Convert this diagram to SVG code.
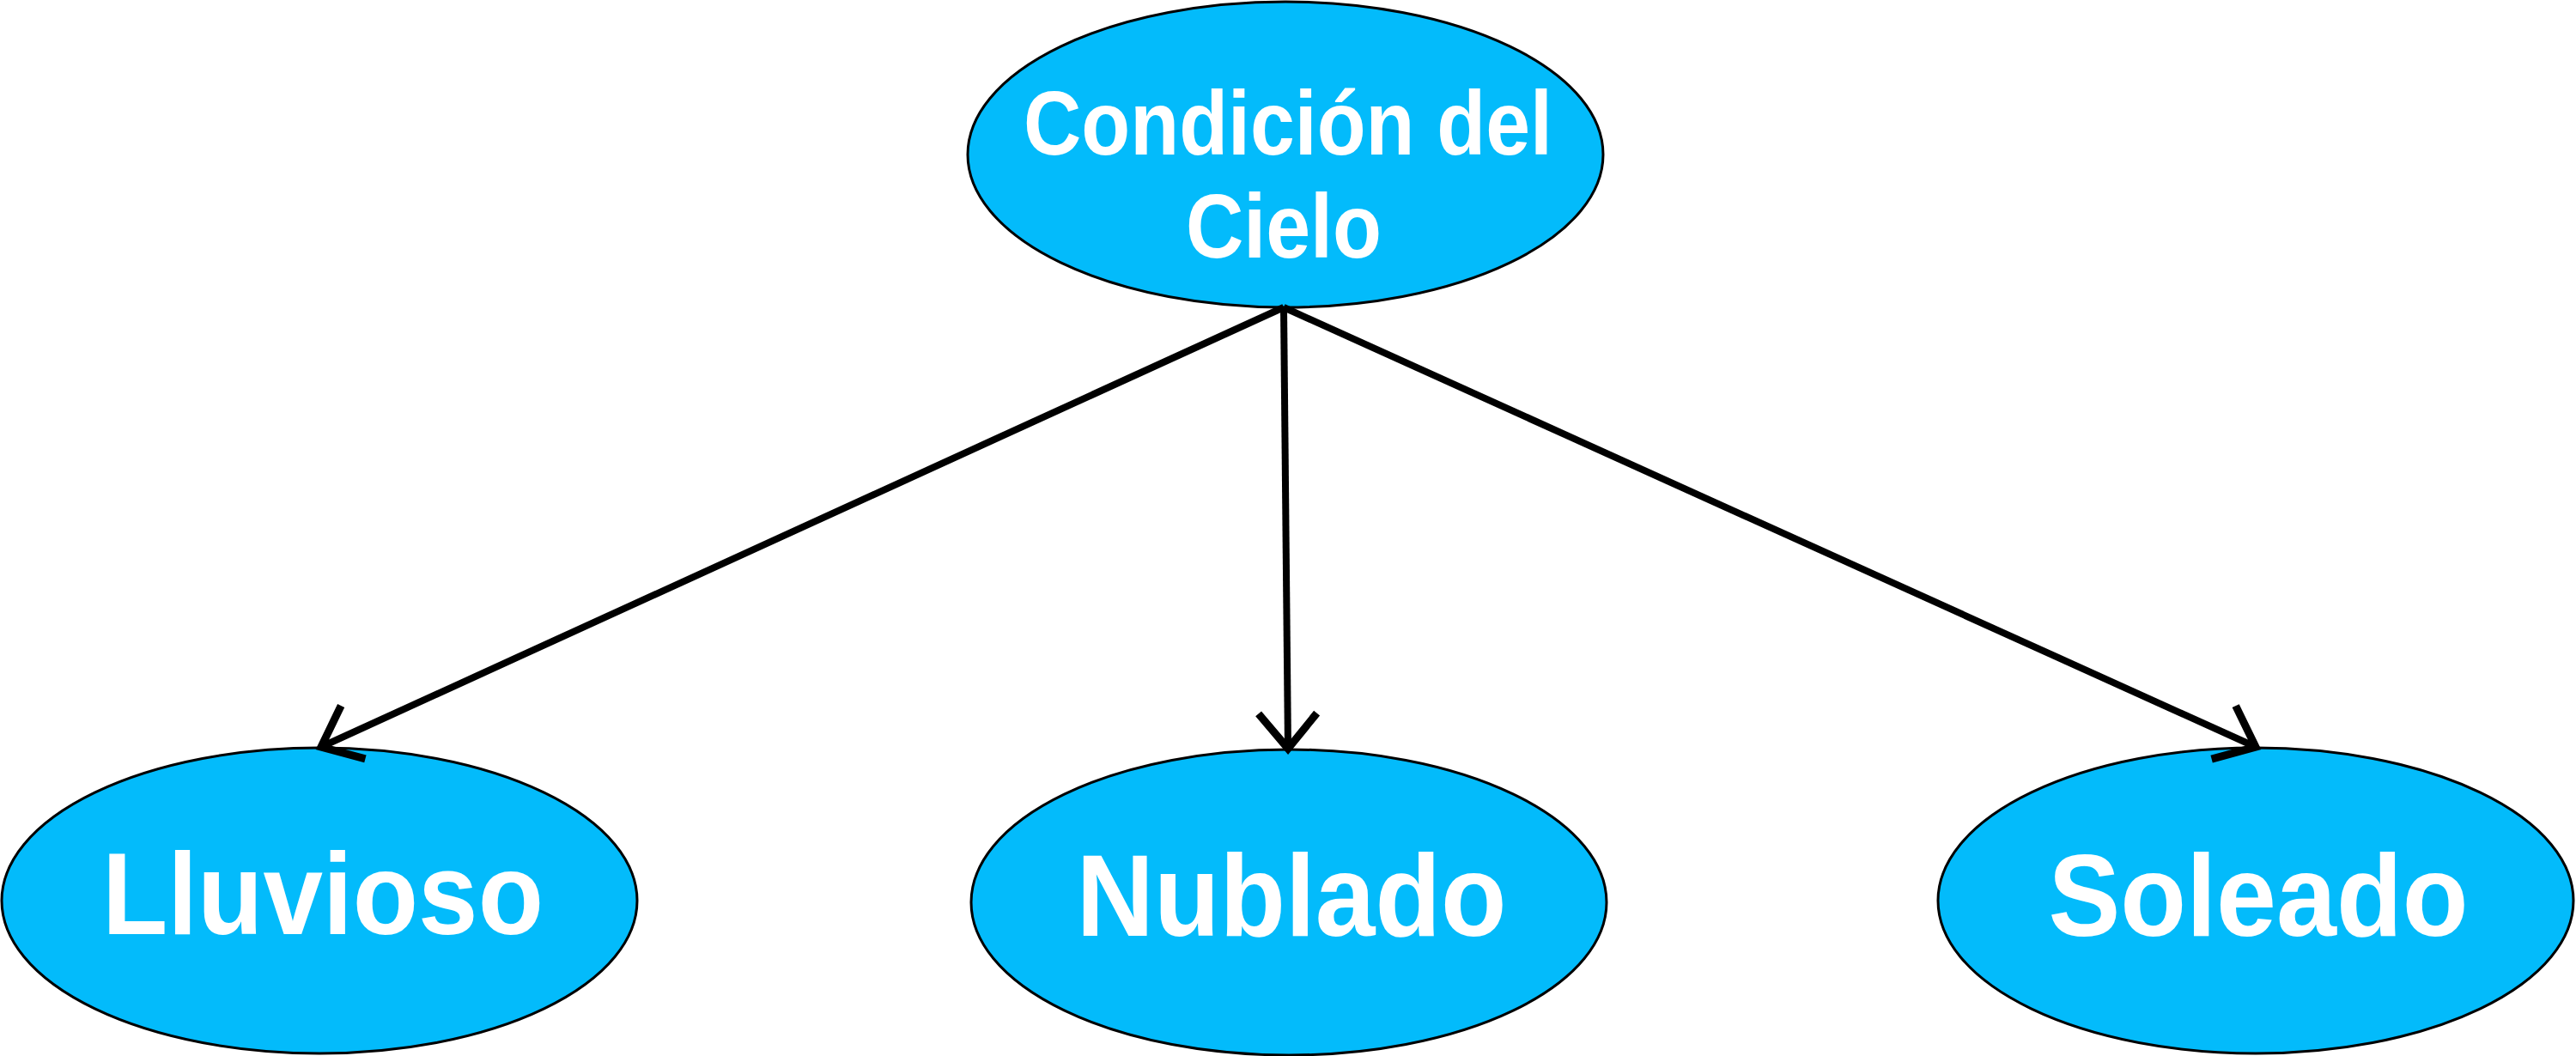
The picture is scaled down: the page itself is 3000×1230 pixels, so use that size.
<svg xmlns="http://www.w3.org/2000/svg" width="3000" height="1230" viewBox="0 0 3000 1230">
<style>
.node ellipse{fill:#03BBFB;stroke:#000;stroke-width:3}
.node text{font-family:"Liberation Sans",Arial,sans-serif;font-weight:bold;fill:#fff;text-anchor:middle}
.top text{font-size:106px}
.leaf text{font-size:135px}
.edge{stroke:#000;stroke-width:8;fill:none}
</style>
<defs>
<marker id="arr" markerUnits="userSpaceOnUse" markerWidth="100" markerHeight="100" viewBox="-60 -50 70 100" refX="0" refY="0" orient="auto" overflow="visible">
<path d="M-41,-34 L0,0 L-41,34" fill="none" stroke="#000" stroke-width="9" stroke-linejoin="miter"/>
</marker>
</defs>
<rect width="3000" height="1230" fill="#fff"/>
<g id="condicion" class="node top">
<ellipse cx="1497" cy="180" rx="370" ry="178"/>
<text x="1500" y="180" textLength="616" lengthAdjust="spacingAndGlyphs">Condición del</text>
<text x="1495" y="300" textLength="228" lengthAdjust="spacingAndGlyphs">Cielo</text>
</g>
<g id="lluvioso" class="node leaf">
<ellipse cx="372" cy="1049" rx="370" ry="178"/>
<text x="376" y="1088" textLength="514" lengthAdjust="spacingAndGlyphs">Lluvioso</text>
</g>
<g id="nublado" class="node leaf">
<ellipse cx="1501" cy="1051" rx="370" ry="178"/>
<text x="1504" y="1090" textLength="501" lengthAdjust="spacingAndGlyphs">Nublado</text>
</g>
<g id="soleado" class="node leaf">
<ellipse cx="2627" cy="1049" rx="370" ry="178"/>
<text x="2630" y="1090" textLength="489" lengthAdjust="spacingAndGlyphs">Soleado</text>
</g>
<g id="connectors">
<line class="edge" x1="1495" y1="358" x2="374" y2="870" marker-end="url(#arr)"/>
<line class="edge" x1="1495" y1="358" x2="1500" y2="872" marker-end="url(#arr)"/>
<line class="edge" x1="1495" y1="358" x2="2627" y2="870" marker-end="url(#arr)"/>
</g>
</svg>
